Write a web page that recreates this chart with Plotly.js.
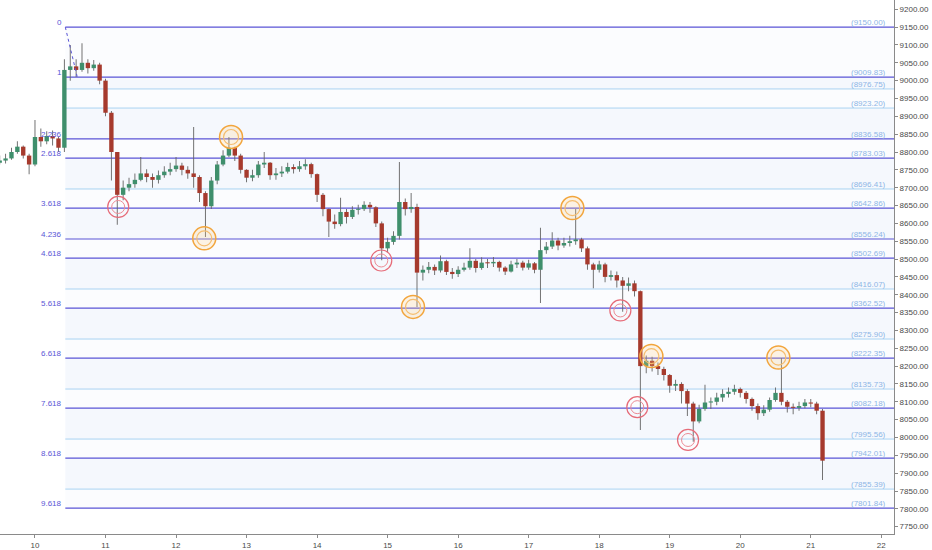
<!DOCTYPE html>
<html>
<head>
<meta charset="utf-8">
<script src="https://cdn.plot.ly/plotly-3.0.1.min.js"></script>
<style>
  html, body { margin: 0; padding: 0; background: #fff; }
  #myDiv { width: 932px; height: 550px; }
</style>
</head>
<body>
<div id="myDiv"></div>
<script>
// Velas de 2 horas, desde el día 9.5 (eje x en días del mes)
var startDay = 9.5;
var stepDay = 1 / 12;
var firstOpen = 8770;

var closes = [
  8776, 8782, 8800, 8815, 8790, 8765, 8842, 8830, 8845, 8838,
  8812, 9030, 9040, 9030, 9050, 9035, 9045, 9000, 8910, 8800,
  8680, 8700, 8710, 8722, 8740, 8730, 8722, 8735, 8745, 8752,
  8762, 8750, 8740, 8730, 8685, 8648, 8720, 8765, 8790, 8812,
  8790, 8750, 8728, 8735, 8765, 8770, 8735, 8740, 8745, 8758,
  8752, 8760, 8766, 8738, 8680, 8640, 8605, 8598, 8632, 8618,
  8638, 8640, 8652, 8645, 8600, 8530, 8548, 8565, 8660, 8640,
  8646, 8462, 8470, 8478, 8468, 8494, 8464, 8458, 8470, 8476,
  8495, 8475, 8490, 8488, 8492, 8476, 8465, 8485, 8490, 8476,
  8488, 8470, 8525, 8535, 8552, 8538, 8545, 8550, 8555, 8530,
  8485, 8470, 8485, 8450, 8455, 8440, 8425, 8432, 8410, 8200,
  8215, 8200, 8192, 8175, 8145, 8150, 8130, 8095, 8045, 8080,
  8098, 8100, 8112, 8122, 8128, 8136, 8125, 8108, 8088, 8068,
  8078, 8105, 8125, 8100, 8086, 8083, 8088, 8098, 8095, 8075,
  7935
];
var highs = [
  8790, 8795, 8812, 8830, 8818, 8795, 8890, 8866, 8858, 8860,
  8842, 9060, 9100, 9060, 9105, 9060, 9058, 9050, 9005, 8915,
  8800, 8720, 8728, 8740, 8786, 8752, 8740, 8748, 8760, 8770,
  8786, 8770, 8760, 8870, 8735, 8690, 8730, 8775, 8805, 8842,
  8815, 8795, 8752, 8750, 8775, 8800, 8772, 8755, 8760, 8770,
  8766, 8775, 8780, 8770, 8740, 8685, 8642, 8625, 8672, 8640,
  8648, 8652, 8662, 8660, 8648, 8605, 8560, 8578, 8772, 8670,
  8685, 8655, 8482, 8492, 8485, 8510, 8498, 8475, 8480, 8490,
  8530, 8500, 8505, 8500, 8506, 8495, 8480, 8495, 8500, 8495,
  8498, 8492, 8588, 8548, 8575, 8560, 8560, 8565, 8640, 8560,
  8535, 8490, 8495, 8490, 8468, 8465, 8450, 8448, 8440, 8412,
  8230, 8226, 8210, 8198, 8178, 8162, 8155, 8135, 8100, 8092,
  8148, 8112, 8125, 8135, 8140, 8148, 8140, 8130, 8112, 8095,
  8090, 8112, 8140, 8223, 8105, 8095, 8100, 8108, 8108, 8100,
  8080
];
var lows = [
  8765, 8768, 8778, 8795, 8782, 8738, 8760, 8815, 8822, 8818,
  8800, 8800, 9000, 9010, 9025, 9020, 9028, 8990, 8900, 8720,
  8596, 8665, 8690, 8700, 8718, 8715, 8700, 8712, 8728, 8735,
  8745, 8735, 8725, 8700, 8660, 8562, 8640, 8710, 8760, 8785,
  8775, 8740, 8715, 8718, 8728, 8755, 8722, 8722, 8730, 8740,
  8740, 8745, 8750, 8728, 8660, 8620, 8562, 8585, 8592, 8600,
  8612, 8625, 8635, 8630, 8590, 8497, 8520, 8540, 8555, 8622,
  8630, 8366, 8440, 8460, 8455, 8462, 8455, 8445, 8450, 8465,
  8470, 8462, 8470, 8475, 8478, 8465, 8455, 8462, 8475, 8468,
  8470, 8460, 8377, 8515, 8528, 8525, 8532, 8535, 8540, 8520,
  8470, 8418, 8462, 8435, 8440, 8420, 8352, 8410, 8395, 8021,
  8180, 8185, 8175, 8160, 8125, 8130, 8095, 8060, 7988, 8040,
  8075, 8080, 8090, 8100, 8112, 8120, 8112, 8095, 8075, 8050,
  8060, 8072, 8100, 8090, 8070, 8065, 8075, 8082, 8085, 8065,
  7881
];

// Niveles de Fibonacci
var fibRatios = ["0", "1", "1.236", "1.618", "2.236", "2.618", "3.236", "3.618", "4.236", "4.618",
  "5.236", "5.618", "6.236", "6.618", "7.236", "7.618", "8.236", "8.618", "9.236", "9.618"];
var fibPrices = [9150.00, 9009.83, 8976.75, 8923.20, 8836.58, 8783.03, 8696.41, 8642.86, 8556.24, 8502.69,
  8416.07, 8362.52, 8275.90, 8222.35, 8135.73, 8082.18, 7995.56, 7942.01, 7855.39, 7801.84];
var fibMain = [true, true, false, false, true, true, false, true, true, true,
  false, true, false, true, false, true, false, true, false, true];
var fibStart = 10.43;
var fibAnchorX = [10.43, 10.6];
var fibAnchorY = [9150.00, 9009.83];

// Marcas de máximos (naranja) y mínimos (rojo)
var highMarkX = [12.78, 12.40, 15.36, 17.62, 18.74, 20.54];
var highMarkY = [8842, 8558, 8366, 8643, 8228, 8224];
var lowMarkX = [11.18, 14.91, 18.30, 18.54, 19.26];
var lowMarkY = [8646, 8496, 8356, 8085, 7993];

var xTicks = [10, 11, 12, 13, 14, 15, 16, 17, 18, 19, 20, 21, 22];

// Construcción de las velas (mechas y cuerpos como barras con base)
var times = [], opens = [], bodyBase = [], bodyLen = [], wickLen = [], bodyColor = [];
for (var i = 0; i < closes.length; i++) {
  times.push(startDay + i * stepDay);
  var o = i == 0 ? firstOpen : closes[i - 1];
  opens.push(o);
  bodyBase.push(Math.min(o, closes[i]));
  bodyLen.push(Math.max(Math.abs(closes[i] - o), 3));
  wickLen.push(highs[i] - lows[i]);
  bodyColor.push(closes[i] >= o ? "#3f8f6c" : "#a63a2d");
}

var wicks = {
  type: "bar", x: times, base: lows, y: wickLen,
  width: 0.013,
  marker: { color: "#666666", line: { width: 0 } },
  hoverinfo: "none",
};

var bodies = {
  type: "bar", x: times, base: bodyBase, y: bodyLen,
  width: 0.062,
  marker: { color: bodyColor, line: { width: 0 } },
  hoverinfo: "none",
};

// Línea discontinua del trazado de Fibonacci
var anchor = {
  type: "scatter", mode: "lines",
  x: fibAnchorX, y: fibAnchorY,
  line: { color: "#5a55d6", width: 1, dash: "dot" },
  hoverinfo: "none",
};

var orangeOuter = {
  type: "scatter", mode: "markers", x: highMarkX, y: highMarkY,
  marker: { symbol: "circle", size: 23, color: "rgba(255,210,130,0.22)", line: { color: "#f2a53c", width: 1.5 } },
  hoverinfo: "none",
};
var orangeInner = {
  type: "scatter", mode: "markers", x: highMarkX, y: highMarkY,
  marker: { symbol: "circle-open", size: 15, color: "#f5bd6e", line: { width: 1.2 } },
  hoverinfo: "none",
};
var redOuter = {
  type: "scatter", mode: "markers", x: lowMarkX, y: lowMarkY,
  marker: { symbol: "circle-open", size: 21, color: "#e66b78", line: { width: 1.2 } },
  hoverinfo: "none",
};
var redInner = {
  type: "scatter", mode: "markers", x: lowMarkX, y: lowMarkY,
  marker: { symbol: "circle-open", size: 13, color: "#ec8a94", line: { width: 1 } },
  hoverinfo: "none",
};

var xEnd = 22.18;
var shapes = [];
var annotations = [];

// Bandas suaves entre niveles
for (var k = 0; k < fibPrices.length - 1; k++) {
  shapes.push({
    type: "rect", layer: "below", xref: "x", yref: "y",
    x0: fibStart, x1: xEnd, y0: fibPrices[k + 1], y1: fibPrices[k],
    fillcolor: k % 2 == 0 ? "rgba(225,235,250,0.15)" : "rgba(225,235,250,0.35)",
    line: { width: 0 },
  });
}

fibPrices.forEach(function (p, k) {
  shapes.push({
    type: "line", layer: "below", xref: "x", yref: "y",
    x0: fibStart, x1: xEnd, y0: p, y1: p,
    line: { color: fibMain[k] ? "#5a55d6" : "#a9d3f2", width: fibMain[k] ? 1.2 : 1 },
  });
  annotations.push({
    x: 22.1, y: p, xref: "x", yref: "y", xanchor: "right", yanchor: "bottom",
    text: "(" + p.toFixed(2) + ")", showarrow: false, yshift: -2,
    font: { size: 8, color: "#8db6e6" },
  });
  if (fibMain[k]) {
    annotations.push({
      x: 10.41, y: p, xref: "x", yref: "y", xanchor: "right", yanchor: "bottom",
      text: fibRatios[k], showarrow: false, yshift: -2,
      font: { size: 8, color: "#5a55d6" },
    });
  }
});

var layout = {
  width: 932, height: 550,
  margin: { l: 0, r: 38, t: 0, b: 16 },
  paper_bgcolor: "#ffffff", plot_bgcolor: "#ffffff",
  showlegend: false,
  barmode: "overlay",
  font: { family: "Liberation Sans, Arial, sans-serif", size: 8, color: "#4a4a4a" },
  xaxis: {
    range: [9.504, xEnd],
    tickvals: xTicks, ticktext: xTicks.map(String),
    showgrid: false, zeroline: false,
    showline: true, linecolor: "#8a8a8a", linewidth: 1,
    ticks: "outside", ticklen: 3, tickcolor: "#8a8a8a",
    tickfont: { size: 8, color: "#4a4a4a" },
  },
  yaxis: {
    side: "right",
    range: [7729.5, 9226],
    dtick: 50, tick0: 7750, tickformat: ".2f",
    showgrid: false, zeroline: false,
    showline: true, linecolor: "#8a8a8a", linewidth: 1,
    ticks: "outside", ticklen: 3, tickcolor: "#8a8a8a",
    tickfont: { size: 8, color: "#4a4a4a" },
  },
  shapes: shapes,
  annotations: annotations,
};

Plotly.newPlot("myDiv", [wicks, bodies, anchor, orangeOuter, orangeInner, redOuter, redInner], layout, { displayModeBar: false, staticPlot: true });
</script>
</body>
</html>
